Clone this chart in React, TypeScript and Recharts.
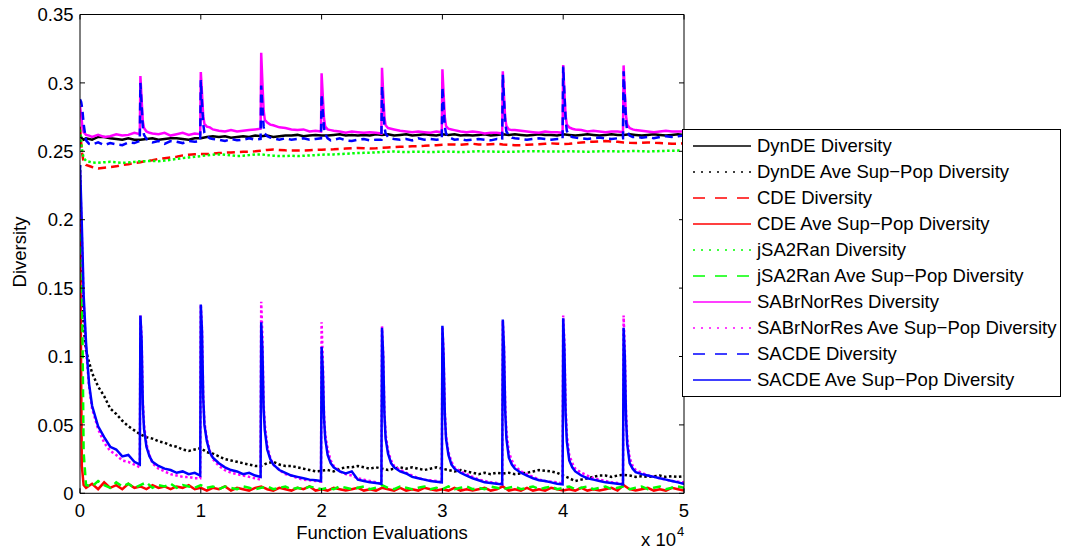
import React from 'react';
import { LineChart, Line, XAxis, YAxis, Legend } from 'recharts';

// ---------- data ----------
const evalsCoarse = [
  0, 150, 300, 500,
  1000, 1500, 2000, 2500, 3000, 3500, 4000, 4500, 5000,
  5500, 6000, 6500, 7000, 7500, 8000, 8500, 9000, 9500, 10000,
  10500, 11000, 11500, 12000, 12500, 13000, 13500, 14000, 14500, 15000,
  15500, 16000, 16500, 17000, 17500, 18000, 18500, 19000, 19500, 20000,
  20500, 21000, 21500, 22000, 22500, 23000, 23500, 24000, 24500, 25000,
  25500, 26000, 26500, 27000, 27500, 28000, 28500, 29000, 29500, 30000,
  30500, 31000, 31500, 32000, 32500, 33000, 33500, 34000, 34500, 35000,
  35500, 36000, 36500, 37000, 37500, 38000, 38500, 39000, 39500, 40000,
  40500, 41000, 41500, 42000, 42500, 43000, 43500, 44000, 44500, 45000,
  45500, 46000, 46500, 47000, 47500, 48000, 48500, 49000, 49500, 50000,
];

const evalsSpike = [
  0, 100, 200, 300, 500, 750, 1000, 1500, 2000, 2500, 3000, 3500, 4000, 4500, 4950,
  5000, 5100, 5200, 5300, 5500, 5750, 6000, 6500, 7000, 7500, 8000, 8500, 9000, 9500, 9950,
  10000, 10100, 10200, 10300, 10500, 10750, 11000, 11500, 12000, 12500, 13000, 13500, 14000, 14500, 14950,
  15000, 15100, 15200, 15300, 15500, 15750, 16000, 16500, 17000, 17500, 18000, 18500, 19000, 19500, 19950,
  20000, 20100, 20200, 20300, 20500, 20750, 21000, 21500, 22000, 22500, 23000, 23500, 24000, 24500, 24950,
  25000, 25100, 25200, 25300, 25500, 25750, 26000, 26500, 27000, 27500, 28000, 28500, 29000, 29500, 29950,
  30000, 30100, 30200, 30300, 30500, 30750, 31000, 31500, 32000, 32500, 33000, 33500, 34000, 34500, 34950,
  35000, 35100, 35200, 35300, 35500, 35750, 36000, 36500, 37000, 37500, 38000, 38500, 39000, 39500, 39950,
  40000, 40100, 40200, 40300, 40500, 40750, 41000, 41500, 42000, 42500, 43000, 43500, 44000, 44500, 44950,
  45000, 45100, 45200, 45300, 45500, 45750, 46000, 46500, 47000, 47500, 48000, 48500, 49000, 49500, 49950,
  50000,
];

const dynDEDiversity = [
  0.262, 0.2595, 0.2585, 0.2595,
  0.2585, 0.2605, 0.2605, 0.2595, 0.259, 0.2585, 0.2595, 0.2585, 0.2585,
  0.259, 0.2595, 0.2585, 0.259, 0.2595, 0.2595, 0.259, 0.2585, 0.2595, 0.2595,
  0.2605, 0.261, 0.2605, 0.261, 0.26, 0.2605, 0.261, 0.2605, 0.2615, 0.261,
  0.2615, 0.2605, 0.261, 0.2615, 0.2615, 0.262, 0.261, 0.2615, 0.262, 0.2615,
  0.2615, 0.262, 0.2625, 0.2615, 0.262, 0.2615, 0.262, 0.2615, 0.2625, 0.262,
  0.2625, 0.2615, 0.262, 0.2625, 0.2615, 0.262, 0.2625, 0.262, 0.2615, 0.2625,
  0.262, 0.2625, 0.2615, 0.262, 0.2615, 0.262, 0.2625, 0.2615, 0.262, 0.2625,
  0.262, 0.2625, 0.262, 0.2615, 0.262, 0.2625, 0.262, 0.262, 0.2615, 0.2625,
  0.262, 0.2615, 0.262, 0.2625, 0.262, 0.2615, 0.262, 0.2625, 0.262, 0.262,
  0.2625, 0.262, 0.2615, 0.262, 0.2625, 0.262, 0.2615, 0.262, 0.2625, 0.262,
];

const dynDEAveSubPop = [
  0.24, 0.165, 0.122, 0.104,
  0.088, 0.078, 0.071, 0.062, 0.058, 0.053, 0.049, 0.046, 0.043,
  0.041, 0.04, 0.038, 0.037, 0.035, 0.034, 0.032, 0.031, 0.032, 0.033,
  0.03, 0.029, 0.027, 0.025, 0.024, 0.023, 0.022, 0.021, 0.02, 0.02,
  0.022, 0.023, 0.021, 0.02, 0.02, 0.019, 0.018, 0.017, 0.016, 0.0165,
  0.017, 0.016, 0.018, 0.019, 0.019, 0.02, 0.019, 0.018, 0.019, 0.018,
  0.017, 0.018, 0.019, 0.018, 0.019, 0.018, 0.017, 0.018, 0.019, 0.018,
  0.017, 0.016, 0.017, 0.016, 0.015, 0.014, 0.015, 0.014, 0.015, 0.0145,
  0.015, 0.014, 0.0145, 0.015, 0.016, 0.017, 0.0165, 0.016, 0.015, 0.013,
  0.011, 0.009, 0.01, 0.011, 0.012, 0.013, 0.013, 0.012, 0.013, 0.0135,
  0.013, 0.012, 0.0125, 0.012, 0.0125, 0.013, 0.012, 0.0125, 0.012, 0.0125,
];

const cdeDiversity = [
  0.268, 0.25, 0.242, 0.24,
  0.2385, 0.2375, 0.238, 0.2385, 0.239, 0.24, 0.2405, 0.2415, 0.242,
  0.243, 0.2435, 0.2445, 0.245, 0.2455, 0.246, 0.247, 0.2475, 0.2478, 0.248,
  0.248, 0.2483, 0.2487, 0.249, 0.2492, 0.2494, 0.2496, 0.2498, 0.25, 0.2505,
  0.251, 0.2513, 0.251, 0.2507, 0.2505, 0.2505, 0.2506, 0.2508, 0.251, 0.2512,
  0.2513, 0.2515, 0.2518, 0.252, 0.2522, 0.2525, 0.2523, 0.252, 0.2522, 0.2525,
  0.2528, 0.253, 0.2533, 0.2535, 0.2537, 0.2538, 0.254, 0.2543, 0.2545, 0.2548,
  0.255, 0.255, 0.2548, 0.2552, 0.2555, 0.255, 0.2548, 0.2552, 0.2555, 0.255,
  0.2548, 0.2545, 0.2545, 0.2548, 0.255, 0.2552, 0.2555, 0.2558, 0.2555, 0.2553,
  0.2555, 0.256, 0.2565, 0.2568, 0.257, 0.2572, 0.2575, 0.2572, 0.257, 0.2565,
  0.2562, 0.256, 0.2562, 0.2565, 0.2562, 0.256, 0.2558, 0.2555, 0.2555, 0.2558,
];

const cdeAveSubPop = [
  0.205, 0.02, 0.006, 0.004,
  0.007, 0.003, 0.008, 0.004, 0.006, 0.003, 0.007, 0.004, 0.005,
  0.003, 0.006, 0.004, 0.005, 0.003, 0.005, 0.004, 0.006, 0.003, 0.004,
  0.002, 0.004, 0.003, 0.005, 0.002, 0.004, 0.003, 0.002, 0.004, 0.005,
  0.003, 0.002, 0.004, 0.003, 0.002, 0.004, 0.003, 0.005, 0.002, 0.003,
  0.002, 0.004, 0.003, 0.002, 0.003, 0.004, 0.002, 0.003, 0.002, 0.004,
  0.003, 0.002, 0.004, 0.002, 0.003, 0.002, 0.004, 0.003, 0.002, 0.003,
  0.002, 0.004, 0.002, 0.003, 0.002, 0.003, 0.004, 0.002, 0.003, 0.005,
  0.002, 0.003, 0.002, 0.004, 0.002, 0.003, 0.002, 0.004, 0.003, 0.002,
  0.003, 0.002, 0.004, 0.002, 0.003, 0.002, 0.003, 0.004, 0.002, 0.006,
  0.003, 0.002, 0.003, 0.004, 0.002, 0.003, 0.002, 0.004, 0.003, 0.002,
];

const jsa2ranDiversity = [
  0.266, 0.252, 0.245, 0.243,
  0.2418, 0.2416, 0.242, 0.2423, 0.242, 0.2416, 0.2418, 0.2422, 0.2428,
  0.2428, 0.243, 0.2428, 0.2432, 0.2438, 0.2445, 0.245, 0.2455, 0.246, 0.2465,
  0.247, 0.2475, 0.2477, 0.2475, 0.247, 0.2465, 0.2468, 0.2472, 0.2477, 0.2477,
  0.2472, 0.2468, 0.2465, 0.2465, 0.2468, 0.2465, 0.2467, 0.247, 0.2472, 0.2475,
  0.2477, 0.2477, 0.248, 0.2482, 0.2485, 0.2487, 0.2489, 0.249, 0.2492, 0.2495,
  0.2497, 0.2498, 0.2496, 0.2495, 0.2496, 0.2497, 0.2496, 0.2495, 0.2496, 0.2497,
  0.2498, 0.2496, 0.2495, 0.2496, 0.2498, 0.25, 0.2499, 0.2498, 0.2497, 0.2496,
  0.2496, 0.2497, 0.2499, 0.25, 0.2501, 0.25, 0.2499, 0.2498, 0.2498, 0.2499,
  0.25, 0.2499, 0.2498, 0.2497, 0.2498, 0.25, 0.2501, 0.25, 0.2499, 0.25,
  0.2501, 0.2502, 0.25, 0.2499, 0.25, 0.2502, 0.2503, 0.2504, 0.2505, 0.2506,
];

const jsa2ranAveSubPop = [
  0.19, 0.165, 0.03, 0.006,
  0.005, 0.009, 0.006, 0.004, 0.008, 0.005, 0.007, 0.004, 0.006,
  0.008, 0.004, 0.006, 0.005, 0.007, 0.004, 0.006, 0.005, 0.004, 0.006,
  0.004, 0.005, 0.003, 0.005, 0.004, 0.003, 0.005, 0.004, 0.003, 0.004,
  0.005, 0.003, 0.004, 0.005, 0.003, 0.004, 0.003, 0.005, 0.004, 0.003,
  0.004, 0.003, 0.005, 0.004, 0.003, 0.004, 0.005, 0.003, 0.004, 0.006,
  0.004, 0.003, 0.005, 0.004, 0.003, 0.004, 0.005, 0.003, 0.004, 0.003,
  0.005, 0.003, 0.004, 0.005, 0.003, 0.004, 0.003, 0.005, 0.004, 0.003,
  0.004, 0.005, 0.003, 0.004, 0.005, 0.003, 0.004, 0.005, 0.003, 0.004,
  0.005, 0.003, 0.004, 0.005, 0.003, 0.004, 0.005, 0.003, 0.004, 0.005,
  0.003, 0.004, 0.005, 0.003, 0.004, 0.005, 0.003, 0.004, 0.005, 0.004,
];

const sabrDiversity = [
  0.283, 0.276, 0.268, 0.264, 0.262, 0.2615, 0.2605, 0.262, 0.2605, 0.261, 0.2625, 0.2615, 0.262, 0.2635, 0.2625,
  0.305, 0.288, 0.272, 0.267, 0.2645, 0.2635, 0.263, 0.2625, 0.2635, 0.2615, 0.2625, 0.2635, 0.262, 0.263, 0.2625,
  0.308, 0.292, 0.276, 0.27, 0.268, 0.2675, 0.266, 0.265, 0.2645, 0.2655, 0.2645, 0.265, 0.2655, 0.266, 0.2665,
  0.322, 0.3, 0.28, 0.273, 0.271, 0.2695, 0.269, 0.2675, 0.267, 0.266, 0.2655, 0.266, 0.2645, 0.265, 0.2645,
  0.307, 0.29, 0.274, 0.268, 0.266, 0.2655, 0.265, 0.2645, 0.2635, 0.2645, 0.264, 0.2635, 0.264, 0.2635, 0.263,
  0.311, 0.292, 0.275, 0.269, 0.267, 0.2665, 0.266, 0.265, 0.2645, 0.264, 0.2645, 0.264, 0.2635, 0.2645, 0.264,
  0.31, 0.292, 0.275, 0.2685, 0.2665, 0.266, 0.2655, 0.2645, 0.264, 0.2645, 0.264, 0.263, 0.2635, 0.2635, 0.263,
  0.3085, 0.29, 0.274, 0.2685, 0.266, 0.2655, 0.2655, 0.265, 0.2645, 0.264, 0.2635, 0.2645, 0.264, 0.264, 0.2635,
  0.313, 0.293, 0.276, 0.2695, 0.2675, 0.2665, 0.266, 0.2655, 0.2645, 0.265, 0.2645, 0.264, 0.2645, 0.2645, 0.264,
  0.3128, 0.293, 0.276, 0.2695, 0.267, 0.266, 0.2655, 0.265, 0.2645, 0.264, 0.2645, 0.265, 0.2645, 0.2645, 0.2645,
  0.265,
];

const sabrAveSubPop = [
  0.235, 0.205, 0.172, 0.14, 0.106, 0.078, 0.062, 0.047, 0.037, 0.031, 0.028, 0.024, 0.023, 0.021, 0.019,
  0.13, 0.114, 0.068, 0.05, 0.036, 0.028, 0.022, 0.018, 0.016, 0.014, 0.013, 0.012, 0.012, 0.011, 0.011,
  0.138, 0.12, 0.072, 0.052, 0.04, 0.031, 0.025, 0.02, 0.017, 0.015, 0.014, 0.013, 0.012, 0.011, 0.01,
  0.14, 0.115, 0.066, 0.05, 0.035, 0.026, 0.021, 0.017, 0.014, 0.013, 0.011, 0.01, 0.0095, 0.009, 0.0085,
  0.125, 0.098, 0.058, 0.043, 0.032, 0.024, 0.02, 0.016, 0.014, 0.013, 0.011, 0.01, 0.009, 0.008, 0.007,
  0.122, 0.102, 0.06, 0.043, 0.031, 0.024, 0.02, 0.017, 0.015, 0.013, 0.011, 0.01, 0.0095, 0.009, 0.008,
  0.122, 0.102, 0.06, 0.042, 0.03, 0.023, 0.019, 0.016, 0.014, 0.012, 0.01, 0.009, 0.008, 0.0075, 0.007,
  0.126, 0.108, 0.064, 0.045, 0.03, 0.024, 0.02, 0.016, 0.014, 0.012, 0.01, 0.009, 0.0085, 0.008, 0.007,
  0.13, 0.11, 0.063, 0.043, 0.028, 0.022, 0.018, 0.015, 0.013, 0.011, 0.01, 0.009, 0.008, 0.0075, 0.007,
  0.13, 0.105, 0.06, 0.04, 0.026, 0.02, 0.017, 0.015, 0.013, 0.012, 0.011, 0.01, 0.009, 0.0085, 0.008,
  0.008,
];

const sacdeDiversity = [
  0.288, 0.286, 0.28, 0.27, 0.258, 0.2555, 0.255, 0.2565, 0.2545, 0.256, 0.255, 0.2545, 0.2565, 0.256, 0.2575,
  0.3, 0.284, 0.268, 0.262, 0.259, 0.2575, 0.2565, 0.2575, 0.2555, 0.2575, 0.257, 0.256, 0.2575, 0.257, 0.2575,
  0.302, 0.285, 0.27, 0.2635, 0.261, 0.2595, 0.259, 0.2585, 0.2575, 0.259, 0.258, 0.2585, 0.2595, 0.2585, 0.259,
  0.298, 0.283, 0.268, 0.263, 0.261, 0.26, 0.2595, 0.2585, 0.2595, 0.2585, 0.259, 0.2595, 0.2585, 0.259, 0.2595,
  0.2915, 0.279, 0.267, 0.2625, 0.2595, 0.258, 0.2585, 0.2595, 0.258, 0.2575, 0.2585, 0.259, 0.258, 0.2585, 0.2585,
  0.2975, 0.283, 0.268, 0.263, 0.2605, 0.2595, 0.259, 0.2585, 0.259, 0.258, 0.2595, 0.2585, 0.259, 0.2585, 0.259,
  0.297, 0.283, 0.268, 0.263, 0.2605, 0.2595, 0.2585, 0.259, 0.258, 0.2585, 0.259, 0.2585, 0.258, 0.259, 0.2585,
  0.306, 0.288, 0.271, 0.2645, 0.2615, 0.26, 0.2595, 0.259, 0.2585, 0.259, 0.2595, 0.259, 0.2585, 0.259, 0.259,
  0.312, 0.292, 0.273, 0.265, 0.2615, 0.2605, 0.26, 0.2595, 0.259, 0.2595, 0.26, 0.2595, 0.259, 0.2595, 0.2595,
  0.3085, 0.29, 0.272, 0.2645, 0.2615, 0.2605, 0.2605, 0.26, 0.2605, 0.2595, 0.2605, 0.261, 0.2605, 0.261, 0.2615,
  0.2615,
];

const sacdeAveSubPop = [
  0.24, 0.212, 0.18, 0.145, 0.11, 0.08, 0.064, 0.049, 0.041, 0.034, 0.032, 0.027, 0.028, 0.023, 0.021,
  0.13, 0.112, 0.065, 0.047, 0.034, 0.027, 0.023, 0.02, 0.018, 0.017, 0.015, 0.016, 0.014, 0.015, 0.013,
  0.138, 0.118, 0.07, 0.05, 0.038, 0.03, 0.026, 0.022, 0.019, 0.017, 0.016, 0.014, 0.015, 0.013, 0.012,
  0.125, 0.105, 0.062, 0.046, 0.032, 0.025, 0.021, 0.017, 0.015, 0.013, 0.012, 0.011, 0.01, 0.0095, 0.009,
  0.107, 0.09, 0.055, 0.04, 0.028, 0.022, 0.019, 0.016, 0.0145, 0.016, 0.01, 0.009, 0.008, 0.0075, 0.007,
  0.121, 0.1, 0.058, 0.04, 0.029, 0.022, 0.019, 0.016, 0.0145, 0.012, 0.011, 0.01, 0.009, 0.0085, 0.008,
  0.1225, 0.1, 0.058, 0.04, 0.028, 0.021, 0.018, 0.015, 0.013, 0.011, 0.0095, 0.008, 0.0075, 0.007, 0.0065,
  0.127, 0.105, 0.06, 0.04, 0.026, 0.021, 0.018, 0.015, 0.013, 0.011, 0.0095, 0.009, 0.008, 0.007, 0.0065,
  0.128, 0.105, 0.058, 0.038, 0.024, 0.019, 0.016, 0.013, 0.011, 0.01, 0.009, 0.008, 0.0075, 0.007, 0.0065,
  0.121, 0.1, 0.055, 0.036, 0.022, 0.018, 0.0155, 0.014, 0.013, 0.012, 0.011, 0.01, 0.009, 0.008, 0.007,
  0.007,
];

const seriesNames = [
  'DynDE Diversity',
  'DynDE Ave Sup\u2212Pop Diversity',
  'CDE Diversity',
  'CDE Ave Sup\u2212Pop Diversity',
  'jSA2Ran Diversity',
  'jSA2Ran Ave Sup\u2212Pop Diversity',
  'SABrNorRes Diversity',
  'SABrNorRes Ave Sup\u2212Pop Diversity',
  'SACDE Diversity',
  'SACDE Ave Sup\u2212Pop Diversity',
];

const xTicks = [0, 10000, 20000, 30000, 40000, 50000];
const xTickLabels = ['0', '1', '2', '3', '4', '5'];
const yTicks = [0, 0.05, 0.1, 0.15, 0.2, 0.25, 0.3, 0.35];
const yTickLabels = ['0', '0.05', '0.1', '0.15', '0.2', '0.25', '0.3', '0.35'];

// ---------- styling ----------
const FONT = '"Liberation Sans", Arial, Helvetica, sans-serif';
const FS = 18.5;
const SOLID = undefined;
const DOT = '2.5 2.5';
const DASH = '8 5';

const toPoints = (xs: number[], ys: number[]) => xs.map((x, i) => ({ x, y: ys[i] }));

const series = [
  { name: seriesNames[0], data: toPoints(evalsCoarse, dynDEDiversity), color: '#000000', dash: SOLID, legendDash: undefined, w: 2.5 },
  { name: seriesNames[1], data: toPoints(evalsCoarse, dynDEAveSubPop), color: '#000000', dash: DOT, legendDash: '2 6', w: 2.5 },
  { name: seriesNames[2], data: toPoints(evalsCoarse, cdeDiversity), color: '#ff0000', dash: DASH, legendDash: '12 10', w: 2.5 },
  { name: seriesNames[3], data: toPoints(evalsCoarse, cdeAveSubPop), color: '#ff0000', dash: SOLID, legendDash: undefined, w: 2.5 },
  { name: seriesNames[4], data: toPoints(evalsCoarse, jsa2ranDiversity), color: '#00ff00', dash: DOT, legendDash: '2 6', w: 2.5 },
  { name: seriesNames[5], data: toPoints(evalsCoarse, jsa2ranAveSubPop), color: '#00ff00', dash: DASH, legendDash: '12 10', w: 2.5 },
  { name: seriesNames[6], data: toPoints(evalsSpike, sabrDiversity), color: '#ff00ff', dash: SOLID, legendDash: undefined, w: 2.5 },
  { name: seriesNames[7], data: toPoints(evalsSpike, sabrAveSubPop), color: '#ff00ff', dash: DOT, legendDash: '2 6', w: 2.5 },
  { name: seriesNames[8], data: toPoints(evalsSpike, sacdeDiversity), color: '#0000ff', dash: DASH, legendDash: '12 10', w: 2.5 },
  { name: seriesNames[9], data: toPoints(evalsSpike, sacdeAveSubPop), color: '#0000ff', dash: SOLID, legendDash: undefined, w: 2.5 },
];

// ---------- ticks ----------
const LeftTick = (props: any) => {
  const { x, y, payload, index } = props;
  return (
    <g>
      <line x1={x} x2={x + 5} y1={y} y2={y} stroke="#000" strokeWidth={1} />
      <text x={x - 6.5} y={y} dy="0.36em" textAnchor="end" fontSize={FS} fontFamily={FONT} fill="#000">
        {yTickLabels[yTicks.indexOf(payload.value)] ?? yTickLabels[index]}
      </text>
    </g>
  );
};
const RightTick = (props: any) => {
  const { x, y } = props;
  return <line x1={x} x2={x - 5} y1={y} y2={y} stroke="#000" strokeWidth={1} />;
};
const BottomTick = (props: any) => {
  const { x, y, payload, index } = props;
  return (
    <g>
      <line x1={x} x2={x} y1={y} y2={y - 5} stroke="#000" strokeWidth={1} />
      <text x={x} y={y + 23.4} textAnchor="middle" fontSize={FS} fontFamily={FONT} fill="#000">
        {xTickLabels[xTicks.indexOf(payload.value)] ?? xTickLabels[index]}
      </text>
    </g>
  );
};
const TopTick = (props: any) => {
  const { x, y } = props;
  return <line x1={x} x2={x} y1={y} y2={y + 5} stroke="#000" strokeWidth={1} />;
};

// ---------- legend ----------
const renderLegend = () => (
  <div
    style={{
      position: 'relative',
      width: 379,
      height: 268,
      border: '1.3px solid #000',
      background: '#fff',
      boxSizing: 'border-box',
      fontFamily: FONT,
    }}
  >
    {series.map((s, i) => (
      <div
        key={s.name}
        style={{ position: 'absolute', left: 0, top: 3 + i * 26, height: 26, display: 'flex', alignItems: 'center' }}
      >
        <svg width={72} height={26} style={{ display: 'block' }}>
          <line x1={10} x2={68} y1={13} y2={13} stroke={s.color} strokeWidth={1.4} strokeDasharray={s.legendDash} />
        </svg>
        <span style={{ fontSize: FS, color: '#000', whiteSpace: 'nowrap', marginLeft: 2, lineHeight: '26px' }}>
          {s.name}
        </span>
      </div>
    ))}
  </div>
);

export default function App() {
  return (
    <div style={{ position: 'absolute', left: 0, top: 0, width: 1066, height: 551, background: '#fff' }}>
      <LineChart
        width={1066}
        height={551}
        margin={{ top: 13.5, right: 381, bottom: 17.7, left: 0 }}
      >
        <XAxis
          dataKey="x"
          type="number"
          domain={[0, 50000]}
          ticks={xTicks}
          interval={0}
          height={40}
          tickSize={0}
          tickMargin={0}
          tickLine={false}
          axisLine={{ stroke: '#000', strokeWidth: 1 }}
          tick={<BottomTick />}
          allowDataOverflow
        />
        <XAxis
          xAxisId="top"
          orientation="top"
          dataKey="x"
          type="number"
          domain={[0, 50000]}
          ticks={xTicks}
          interval={0}
          height={1}
          tickSize={0}
          tickMargin={0}
          tickLine={false}
          axisLine={{ stroke: '#000', strokeWidth: 1 }}
          tick={<TopTick />}
          allowDataOverflow
        />
        <YAxis
          type="number"
          domain={[0, 0.35]}
          ticks={yTicks}
          interval={0}
          width={80}
          tickSize={0}
          tickMargin={0}
          tickLine={false}
          axisLine={{ stroke: '#000', strokeWidth: 1 }}
          tick={<LeftTick />}
          allowDataOverflow
        />
        <YAxis
          yAxisId="right"
          orientation="right"
          type="number"
          domain={[0, 0.35]}
          ticks={yTicks}
          interval={0}
          width={1}
          tickSize={0}
          tickMargin={0}
          tickLine={false}
          axisLine={{ stroke: '#000', strokeWidth: 1 }}
          tick={<RightTick />}
          allowDataOverflow
        />
        {series.map((s) => (
          <Line
            key={s.name}
            name={s.name}
            data={s.data}
            dataKey="y"
            type="linear"
            stroke={s.color}
            strokeWidth={s.w}
            strokeDasharray={s.dash}
            dot={false}
            activeDot={false}
            isAnimationActive={false}
          />
        ))}
        <Legend
          layout="vertical"
          align="center"
          verticalAlign="middle"
          content={renderLegend}
          wrapperStyle={{ left: 682, top: 129, width: 379, height: 268, right: 'auto', bottom: 'auto' }}
        />
      </LineChart>
      <div
        style={{
          position: 'absolute', left: 232, width: 300, top: 522, textAlign: 'center',
          fontFamily: FONT, fontSize: FS, lineHeight: '22px', color: '#000', whiteSpace: 'nowrap',
        }}
      >
        Function Evaluations
      </div>
      <div
        style={{
          position: 'absolute', left: -30, width: 100, top: 241, height: 22, textAlign: 'center',
          fontFamily: FONT, fontSize: FS, lineHeight: '22px', color: '#000', transform: 'rotate(-90deg)',
          whiteSpace: 'nowrap',
        }}
      >
        Diversity
      </div>
      <div
        style={{
          position: 'absolute', left: 641, top: 529, fontFamily: FONT, fontSize: FS, lineHeight: '22px',
          color: '#000', whiteSpace: 'nowrap',
        }}
      >
        x 10
      </div>
      <div
        style={{
          position: 'absolute', left: 677, top: 524, fontFamily: FONT, fontSize: 13, lineHeight: '16px',
          color: '#000', whiteSpace: 'nowrap',
        }}
      >
        4
      </div>
    </div>
  );
}
